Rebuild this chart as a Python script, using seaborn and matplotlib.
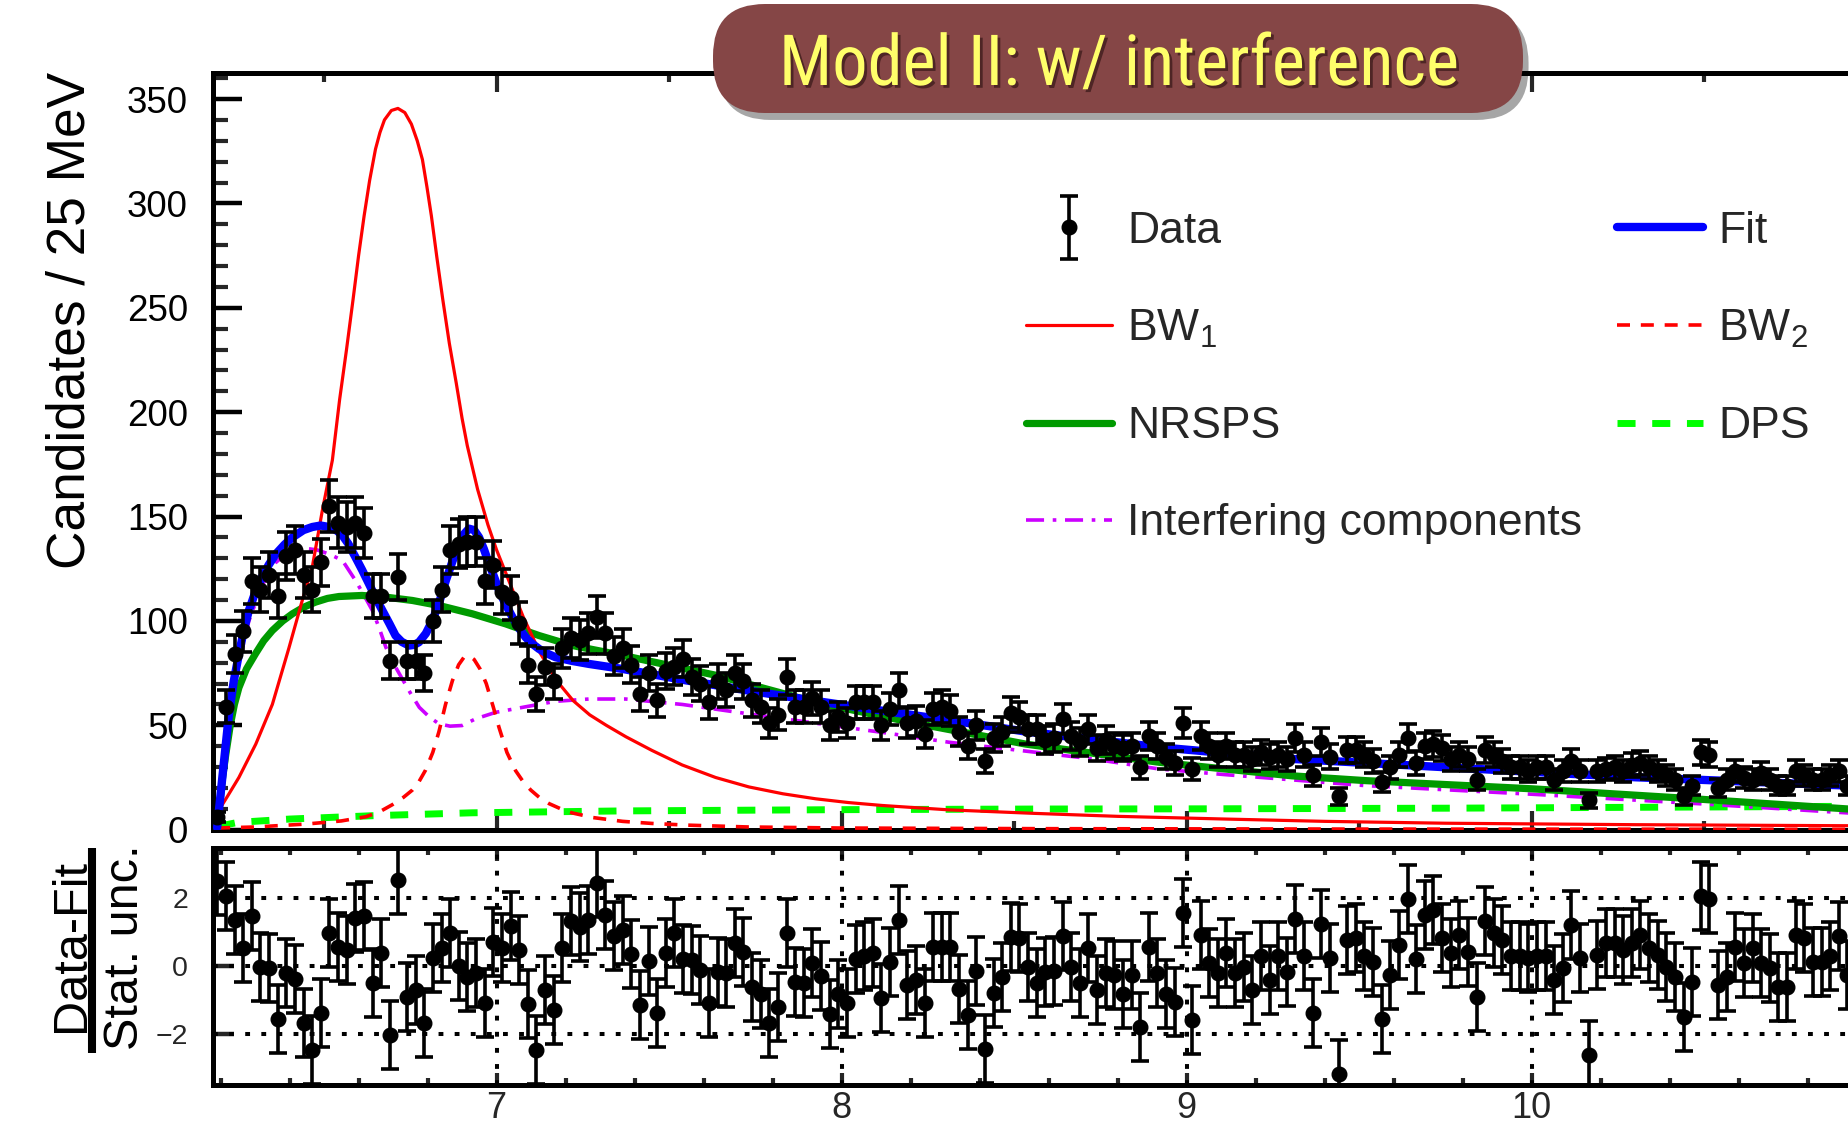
import numpy as np
import pandas as pd
import matplotlib
matplotlib.use("Agg")
import matplotlib.pyplot as plt
import seaborn as sns
from matplotlib.patches import FancyBboxPatch
from matplotlib.lines import Line2D
from matplotlib.ticker import MultipleLocator, FixedLocator, NullLocator
from matplotlib.legend_handler import HandlerErrorbar
from matplotlib.container import ErrorbarContainer
import matplotlib.patheffects as pe
from matplotlib import font_manager

# ------------------------------------------------------------------ data
bin_low_edge = 6.178      # GeV, left edge of first 25 MeV bin
bin_width = 0.025

counts = [
    6, 59, 84, 95, 119, 115, 122, 112, 131, 134, 122, 115, 128, 155, 147, 145,
    147, 142, 112, 112, 81, 121, 81, 81, 75, 100, 115, 134, 137, 138, 138, 119,
    127, 114, 111, 99, 79, 65, 78, 71, 87, 92, 91, 94, 102, 94, 83, 87,
    79, 65, 75, 62, 76, 78, 82, 73, 70, 61, 71, 67, 75, 71, 62, 59,
    51, 55, 73, 59, 59, 63, 59, 50, 54, 51, 61, 61, 61, 50, 58, 67,
    51, 52, 46, 58, 59, 57, 47, 40, 50, 33, 44, 47, 56, 54, 48,
    48, 43, 44, 53, 45, 42, 48, 39, 43, 40, 39, 40, 30, 45, 40, 35,
    32, 51, 29, 45, 40, 36, 40, 36, 36, 34, 37, 35, 36, 34, 44, 36,
    26, 42, 35, 16, 38, 38, 36, 33, 23, 30, 36, 44, 32, 40, 41, 39,
    34, 36, 34, 24, 38, 36, 33, 30, 30, 28, 30, 30, 24, 28, 33, 28,
    14, 28, 29, 30, 28, 31, 32, 30, 28, 26, 24, 16, 21, 37, 36, 20,
    24, 28, 25, 24, 27, 24, 21, 21, 28, 26, 24, 24, 26, 28, 21,
]

pulls = [
    2.5, 2.04, 1.35, 0.51, 1.47, -0.03, -0.08, -1.58, -0.23, -0.40,
    -1.70, -2.49, -1.39, 0.95, 0.56, 0.46, 1.40, 1.45, -0.52, 0.36,
    -2.03, 2.53, -0.91, -0.72, -1.68, 0.22, 0.51, 0.95, -0.01, -0.32,
    -0.23, -1.11, 0.71, 0.51, 1.17, 0.46, -1.14, -2.47, -0.72, -1.31,
    0.53, 1.30, 1.15, 1.35, 2.43, 1.49, 0.86, 1.05, 0.34, -1.16,
    0.15, -1.39, 0.36, 0.95, 0.19, 0.17,
    -0.13, -1.11, -0.18, -0.23, 0.66, 0.41, -0.62, -0.82, -1.70, -1.23,
    0.97, -0.47, -0.50, 0.07, -0.30, -1.43, -0.82, -1.11, 0.19, 0.27,
    0.36, -0.96, 0.12, 1.33, -0.57, -0.42, -1.11, 0.54, 0.56, 0.54,
    -0.70, -1.46, -0.15, -2.44, -0.80, -0.32, 0.84, 0.81, -0.03, -0.52,
    -0.18, -0.15, 0.86, -0.03, -0.52, 0.51, -0.72, -0.23, -0.28, -0.82,
    -0.28, -1.80, 0.54, -0.23, -0.82, -1.06, 1.56, -1.60, 0.90, 0.07,
    -0.23, 0.36, -0.23, -0.03, -0.72, 0.29, -0.42, 0.27, -0.18, 1.37,
    0.27, -1.39, 1.23, 0.22, -3.2, 0.76,
    0.81, 0.27, 0.12, -1.58, -0.28, 0.61, 1.96, 0.19, 1.49, 1.64,
    0.81, 0.36, 0.90, 0.41, -0.91, 1.30, 0.95, 0.76, 0.27, 0.27,
    0.22, 0.27, 0.27, -0.42, -0.08, 1.20, 0.22, -2.64, 0.31, 0.68,
    0.66, 0.46, 0.66, 0.90, 0.51, 0.31, -0.03, -0.32, -1.52, -0.47,
    2.06, 1.96, -0.57, -0.32, 0.56, 0.07, 0.51, 0.07, -0.08, -0.62,
    -0.62, 0.90, 0.81, 0.12, 0.12, 0.27, 0.86, -0.28,
]
pull_err = 1.0   # residuals are in units of the statistical uncertainty

fit_m = [6.19, 6.205, 6.224, 6.238, 6.253, 6.268, 6.282, 6.30, 6.32, 6.34,
         6.36, 6.385, 6.408, 6.44, 6.466, 6.49, 6.514, 6.535, 6.553, 6.57,
         6.591, 6.61, 6.63, 6.65, 6.669, 6.69, 6.707, 6.725, 6.746, 6.76,
         6.775, 6.795, 6.814, 6.834, 6.853, 6.873, 6.892, 6.905, 6.92, 6.935,
         6.949, 6.963, 6.978, 6.993, 7.007, 7.026, 7.046, 7.065, 7.084, 7.10,
         7.123, 7.145, 7.171, 7.22, 7.268, 7.365, 7.55, 7.731, 7.92, 8.118,
         8.33, 8.534, 8.92, 9.306, 9.751, 10.302, 10.92]
fit_n = [1, 25, 55, 71, 84, 96, 105, 113.5, 121, 127,
         132, 136.5, 140, 143.5, 145, 145.7, 145, 143.5, 141, 137,
         130.5, 124.5, 117.8, 111, 105, 98.5, 93, 90, 88.2, 88.5,
         89.8, 94, 100.2, 109, 119.4, 129, 137, 141.5, 144.2, 143.5,
         140.1, 134.5, 127.4, 121, 114.6, 108, 101.8, 96.5, 92.2, 89.5,
         86.6, 84.5, 82.6, 80.8, 79.4, 77, 71.5, 66.6, 61.8, 57,
         52, 47, 39.5, 33.9, 29.9, 25.1, 21.1]

bw1_m = [6.19, 6.22, 6.253, 6.302, 6.35, 6.398, 6.437, 6.466, 6.495, 6.524,
         6.545, 6.565, 6.584, 6.60, 6.616, 6.632, 6.649, 6.662, 6.675, 6.695,
         6.714, 6.734, 6.753, 6.77, 6.785, 6.798, 6.811, 6.827, 6.844, 6.863,
         6.883, 6.90, 6.915, 6.945, 6.975, 7.0, 7.029, 7.077, 7.125, 7.174,
         7.222, 7.27, 7.318, 7.375, 7.45, 7.538, 7.635, 7.731, 7.83, 7.925,
         8.02, 8.118, 8.311, 8.562, 8.8, 9.113, 9.4, 9.751, 10.3, 10.92]
bw1_n = [8, 16, 25, 41, 60, 87, 110, 126, 153, 177,
         206, 230, 254, 275, 294, 311, 326, 334, 340, 344.5,
         345.5, 343.5, 338, 330, 321, 308, 294, 274, 254, 233,
         214, 197, 184, 163, 146, 134, 122, 102, 85, 71.4,
         61.8, 55, 50, 44.5, 38, 31, 25, 20.5, 17.2, 14.8,
         13, 11.6, 9.5, 7.8, 6.4, 5.1, 4.0, 3.1, 2.4, 1.9]

bw2_m = [6.19, 6.30, 6.447, 6.55, 6.621, 6.66, 6.698, 6.73, 6.756, 6.775,
         6.794, 6.815, 6.833, 6.852, 6.872, 6.89, 6.905, 6.92, 6.935, 6.952,
         6.97, 6.99, 7.007, 7.03, 7.055, 7.077, 7.099, 7.125, 7.152, 7.19,
         7.22, 7.28, 7.365, 7.45, 7.55, 7.73, 8.0, 8.56, 9.5, 10.92]
bw2_n = [0.8, 1.3, 2.7, 4.2, 6.2, 8.5, 12, 15.5, 19, 23,
         28.5, 37, 47, 60, 71.4, 79, 82.5, 83.4, 81.5, 77,
         70, 59, 49, 37, 28.3, 23, 19, 15.3, 12.5, 9.7,
         8, 5.8, 4, 3, 2.2, 1.3, 0.8, 0.5, 0.3, 0.2]

nrsps_m = [6.19, 6.196, 6.205, 6.215, 6.228, 6.24, 6.253, 6.275, 6.302, 6.325,
           6.35, 6.38, 6.408, 6.44, 6.475, 6.51, 6.543, 6.61, 6.679, 6.756,
           6.833, 6.93, 7.026, 7.123, 7.22, 7.365, 7.635, 7.925, 8.215, 8.534,
           8.92, 9.306, 9.52, 10.0, 10.48, 10.92]
nrsps_n = [0, 10, 24, 36, 50, 60, 68, 77, 84.5, 90.5,
           95.4, 100, 103.4, 106.5, 109, 110.8, 111.7, 112.2, 111.4, 109.8,
           107.4, 103.4, 98.6, 93, 88.2, 83.5, 74, 61, 51, 41,
           32.3, 25.8, 23.5, 19.6, 14.7, 9.9]

dps_m = [6.19, 6.25, 6.4, 6.64, 6.93, 7.365, 8.0, 8.56, 9.04, 9.75, 10.4, 10.92]
dps_n = [1.5, 3.5, 5.1, 6.7, 8.1, 9.0, 9.6, 9.9, 10.0, 10.3, 10.8, 11.2]

interf_m = [6.19, 6.205, 6.224, 6.253, 6.282, 6.32, 6.36, 6.403, 6.437, 6.48,
            6.515, 6.553, 6.591, 6.615, 6.64, 6.66, 6.679, 6.70, 6.724, 6.75,
            6.776, 6.805, 6.833, 6.865, 6.9, 6.939, 6.997, 7.075, 7.171, 7.268,
            7.374, 7.538, 7.73, 7.925, 8.118, 8.311, 8.562, 8.727, 8.92, 9.11,
            9.52, 10.0, 10.48, 10.92]
interf_n = [1, 24, 52, 80, 100, 117, 128, 134, 135, 134,
            132, 129, 119.4, 112.5, 105, 96.5, 87.4, 80, 73, 65.5,
            58.6, 54, 50.7, 49.6, 49.9, 53.1, 56.2, 58.6, 61.5, 62.6,
            62.6, 60, 55.5, 51, 46.6, 41.9, 37.1, 33.9, 29.1, 26.4,
            21.1, 17, 12.5, 8]

title_text = "Model II: w/ interference"
ylabel_main = "Candidates / 25 MeV"
legend_labels = ["Data", "BW$_{\\mathregular{1}}$", "NRSPS", "Interfering components",
                 "Fit", "BW$_{\\mathregular{2}}$", "DPS"]

# ------------------------------------------------------------------ style
sns.set_theme(style="ticks")
plt.rcParams["font.family"] = ["Liberation Sans", "DejaVu Sans"]
plt.rcParams["mathtext.fontset"] = "custom"
plt.rcParams["mathtext.rm"] = "Liberation Sans"
plt.rcParams["mathtext.it"] = "Liberation Sans:italic"
plt.rcParams["mathtext.bf"] = "Liberation Sans:bold"

W, H = 1849, 1124
fig = plt.figure(figsize=(W / 100, H / 100), dpi=100)
fig.patch.set_facecolor("white")


def fx(px):
    return px / W


def fy(py):
    return 1 - py / H


x_left, x_right = 213, W
ax = fig.add_axes([fx(x_left), fy(829.7), fx(x_right - x_left), (829.7 - 72.5) / H])
axr = fig.add_axes([fx(x_left), fy(1085), fx(x_right - x_left), (1085 - 847.5) / H])

xmin = bin_low_edge
xmax = bin_low_edge + (x_right - x_left) / 345.0

centers = bin_low_edge + bin_width * (np.arange(len(counts)) + 0.5)
counts_arr = np.array(counts, dtype=float)

# ------------------------------------------------------------------ main panel
c_blue, c_red, c_green, c_lgreen, c_mag = "#0000ff", "#ff0000", "#009a00", "#00ff00", "#cc00ff"

sns.lineplot(x=dps_m, y=dps_n, ax=ax, color=c_lgreen, linewidth=5.0,
             linestyle=(0, (2.6, 2.4)), label="DPS", zorder=2, estimator=None)
sns.lineplot(x=interf_m, y=interf_n, ax=ax, color=c_mag, linewidth=2.6,
             linestyle=(0, (5.0, 2.4, 1.0, 2.4)), label="Interfering components",
             zorder=3, estimator=None)
sns.lineplot(x=nrsps_m, y=nrsps_n, ax=ax, color=c_green, linewidth=5.2,
             label="NRSPS", zorder=4, estimator=None)
sns.lineplot(x=bw2_m, y=bw2_n, ax=ax, color=c_red, linewidth=2.6,
             linestyle=(0, (3.6, 3.0)), label="BW2", zorder=5, estimator=None)
sns.lineplot(x=bw1_m, y=bw1_n, ax=ax, color=c_red, linewidth=2.3,
             label="BW1", zorder=6, estimator=None)
sns.lineplot(x=fit_m, y=fit_n, ax=ax, color=c_blue, linewidth=6.0,
             label="Fit", zorder=7, estimator=None)

data_cont = ax.errorbar(centers, counts_arr, yerr=np.sqrt(counts_arr), fmt="o",
                        color="black", ms=10.5, elinewidth=2.6, capsize=6.5,
                        capthick=2.6, zorder=10, label="Data")

ax.set_xlim(xmin, xmax)
ax.set_ylim(0, 362.7)
ax.set_xlabel("")
ax.set_ylabel("")

for sp in ["left", "top", "bottom"]:
    ax.spines[sp].set_linewidth(3.6)
    ax.spines[sp].set_color("black")
ax.spines["right"].set_visible(False)

ax.yaxis.set_major_locator(MultipleLocator(50))
ax.yaxis.set_minor_locator(MultipleLocator(10))
ax.xaxis.set_major_locator(MultipleLocator(1))
ax.xaxis.set_minor_locator(MultipleLocator(0.5))
ax.tick_params(axis="y", which="major", direction="in", length=21, width=3.2,
               labelsize=26.5, pad=18, left=True, right=False, colors="black")
ax.tick_params(axis="y", which="minor", direction="in", length=11, width=3.0,
               left=True, right=False)
ax.tick_params(axis="x", which="major", direction="in", length=14, width=3.0,
               top=True, bottom=True, labelbottom=False, labeltop=False)
ax.tick_params(axis="x", which="minor", direction="in", length=6.5, width=3.0,
               top=True, bottom=True)

# legend
h, l = ax.get_legend_handles_labels()
hmap = dict(zip(l, h))
order = ["Data", "BW1", "NRSPS", "Interfering components", "Fit", "BW2", "DPS"]
handles = [hmap[k] for k in order]
leg = ax.legend(handles, legend_labels, ncol=2, fontsize=32, frameon=False,
                loc="upper left", bbox_to_anchor=(fx(1026), fy(211)),
                bbox_transform=fig.transFigure, borderpad=0, borderaxespad=0,
                handlelength=1.94, handletextpad=0.34, columnspacing=0.78,
                labelspacing=1.26,
                handler_map={ErrorbarContainer: HandlerErrorbar(yerr_size=0.7)})

# ------------------------------------------------------------------ residual panel
axr.errorbar(centers, pulls, yerr=pull_err, fmt="o", color="black", ms=10.5,
             elinewidth=2.6, capsize=6.5, capthick=2.6, zorder=10)
axr.set_xlim(xmin, xmax)
axr.set_ylim(-3.51, 3.476)
dot_style = dict(color="black", linewidth=2.9, linestyle=(0, (1.2, 2.8)), zorder=1)
for yv in [-2, 0, 2]:
    axr.axhline(yv, **dot_style)
for xv in [7, 8, 9, 10]:
    axr.axvline(xv, **dot_style)

for sp in ["left", "top", "bottom"]:
    axr.spines[sp].set_linewidth(3.6)
    axr.spines[sp].set_color("black")
axr.spines["right"].set_visible(False)
axr.xaxis.set_major_locator(MultipleLocator(1))
axr.xaxis.set_minor_locator(MultipleLocator(0.2))
axr.yaxis.set_major_locator(FixedLocator([-2, 0, 2]))
axr.yaxis.set_minor_locator(NullLocator())
axr.set_yticklabels(["\u22122", "0", "2"])
axr.tick_params(axis="y", which="major", direction="in", length=15, width=3.2,
                labelsize=20.5, pad=18, left=True, right=False)
axr.tick_params(axis="x", which="major", direction="in", length=9, width=3.0,
                top=True, bottom=True, labelsize=26, pad=4)
axr.tick_params(axis="x", which="minor", direction="in", length=5, width=3.0,
                top=True, bottom=True)
axr.set_xlabel("")
axr.set_ylabel("")

# ------------------------------------------------------------------ axis titles
fig.text(fx(85), fy(72), ylabel_main, rotation=90, ha="right", va="baseline",
         rotation_mode="anchor", fontsize=38.3, color="black")
fig.text(fx(84), fy(945), "Data-Fit", rotation=90, ha="center", va="baseline",
         rotation_mode="anchor", fontsize=35, color="black")
fig.text(fx(138), fy(947.5), "Stat. unc.", rotation=90, ha="center", va="baseline",
         rotation_mode="anchor", fontsize=35, color="black")
fig.add_artist(Line2D([fx(92), fx(92)], [fy(848), fy(1053)], lw=5.8, color="black",
                      solid_capstyle="butt"))

# ------------------------------------------------------------------ title banner
ov = fig.add_axes([0, 0, 1, 1], zorder=20)
ov.set_xlim(0, W)
ov.set_ylim(H, 0)
ov.axis("off")
ov.patch.set_alpha(0)

banner = FancyBboxPatch((713, 4), 810, 109, boxstyle="round,pad=0,rounding_size=52",
                        facecolor="#854646", edgecolor="none", zorder=1,
                        path_effects=[pe.SimplePatchShadow(offset=(4, -5), shadow_rgbFace="black",
                                                           alpha=0.35), pe.Normal()])
ov.add_patch(banner)


def find_condensed_font():
    """Look for an installed narrow / condensed sans font file."""
    wanted = ["Roboto Condensed", "Open Sans Condensed", "Liberation Sans Narrow",
              "Noto Sans Condensed", "DejaVu Sans"]
    for name in wanted:
        for f in font_manager.fontManager.ttflist:
            fn = f.fname.lower()
            if f.name == name and f.style == "normal" and (
                    "condensed" in fn or "narrow" in fn or
                    str(f.stretch) in ("condensed", "semi-condensed", "extra-condensed")):
                if "bold" in fn or "light" in fn or "oblique" in fn or "italic" in fn:
                    continue
                return f.fname
    return None


cond = find_condensed_font()
if cond is not None:
    tprops = font_manager.FontProperties(fname=cond, size=56)
else:
    tprops = font_manager.FontProperties(family=["Roboto", "Liberation Sans"], size=48)

title = ov.text(1119, 85, title_text, ha="center", va="baseline", color="#ffff6a",
                fontproperties=tprops, zorder=2,
                path_effects=[pe.withSimplePatchShadow(offset=(2, -2), shadow_rgbFace="#2a1010",
                                                       alpha=0.6)])
# scale the banner text so that it spans the same width as in the reference (~680 px)
fig.canvas.draw()
bb = title.get_window_extent()
if bb.width > 0:
    title.set_fontsize(tprops.get_size_in_points() * 680.0 / bb.width)

fig.savefig("out.png", dpi=100, facecolor="white")
